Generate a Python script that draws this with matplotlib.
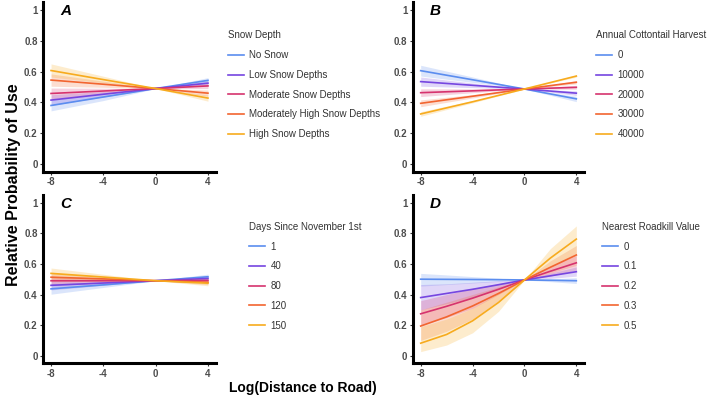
import matplotlib
matplotlib.use("Agg")
import matplotlib.pyplot as plt

plt.rcParams['font.family'] = ['Liberation Sans', 'DejaVu Sans']

colors = ['#5B8DEF', '#7646E0', '#D6336E', '#F26530', '#F7AB1E']

# ---- Panel A: Snow Depth ----
A_x = [-8, -4, 0, 4]
A_labels = ['No Snow', 'Low Snow Depths', 'Moderate Snow Depths',
            'Moderately High Snow Depths', 'High Snow Depths']
A_mid = [[0.380, 0.435, 0.490, 0.543],
         [0.415, 0.453, 0.490, 0.525],
         [0.458, 0.474, 0.490, 0.507],
         [0.545, 0.518, 0.490, 0.460],
         [0.607, 0.548, 0.490, 0.428]]
A_lo = [[0.345, 0.412, 0.490, 0.525],
        [0.380, 0.435, 0.490, 0.508],
        [0.423, 0.456, 0.490, 0.490],
        [0.505, 0.498, 0.490, 0.440],
        [0.565, 0.527, 0.490, 0.408]]
A_hi = [[0.415, 0.458, 0.490, 0.561],
        [0.450, 0.471, 0.490, 0.542],
        [0.493, 0.492, 0.490, 0.524],
        [0.585, 0.538, 0.490, 0.480],
        [0.650, 0.570, 0.490, 0.448]]

# ---- Panel B: Annual Cottontail Harvest ----
B_x = [-8, -4, 0, 4]
B_labels = ['0', '10000', '20000', '30000', '40000']
B_mid = [[0.606, 0.547, 0.487, 0.423],
         [0.535, 0.511, 0.487, 0.460],
         [0.463, 0.475, 0.487, 0.498],
         [0.394, 0.440, 0.487, 0.531],
         [0.325, 0.404, 0.487, 0.571]]
B_lo = [[0.571, 0.530, 0.487, 0.405],
        [0.505, 0.496, 0.487, 0.445],
        [0.438, 0.463, 0.487, 0.486],
        [0.372, 0.429, 0.487, 0.520],
        [0.310, 0.397, 0.487, 0.564]]
B_hi = [[0.641, 0.565, 0.487, 0.440],
        [0.565, 0.526, 0.487, 0.475],
        [0.488, 0.488, 0.487, 0.511],
        [0.416, 0.451, 0.487, 0.542],
        [0.340, 0.412, 0.487, 0.579]]

# ---- Panel C: Days Since November 1st ----
C_x = [-8, -4, 0, 4]
C_labels = ['1', '40', '80', '120', '150']
C_mid = [[0.437, 0.463, 0.490, 0.516],
         [0.460, 0.475, 0.490, 0.505],
         [0.490, 0.490, 0.490, 0.492],
         [0.513, 0.502, 0.490, 0.480],
         [0.538, 0.514, 0.490, 0.474]]
C_lo = [[0.402, 0.446, 0.490, 0.499],
        [0.430, 0.460, 0.490, 0.490],
        [0.460, 0.475, 0.490, 0.477],
        [0.483, 0.487, 0.490, 0.465],
        [0.503, 0.497, 0.490, 0.457]]
C_hi = [[0.472, 0.481, 0.490, 0.533],
        [0.490, 0.490, 0.490, 0.520],
        [0.520, 0.505, 0.490, 0.507],
        [0.543, 0.517, 0.490, 0.495],
        [0.573, 0.532, 0.490, 0.491]]

# ---- Panel D: Nearest Roadkill Value ----
D_x = [-8, -6, -4, -2, 0, 2, 4]
D_labels = ['0', '0.1', '0.2', '0.3', '0.5']
D_mid = [[0.500, 0.499, 0.498, 0.497, 0.495, 0.493, 0.490],
         [0.380, 0.407, 0.434, 0.464, 0.495, 0.522, 0.549],
         [0.274, 0.323, 0.376, 0.434, 0.495, 0.552, 0.607],
         [0.194, 0.254, 0.325, 0.407, 0.495, 0.578, 0.658],
         [0.082, 0.139, 0.228, 0.348, 0.495, 0.638, 0.762]]
D_lo = [[0.455, 0.465, 0.475, 0.485, 0.495, 0.484, 0.472],
        [0.300, 0.340, 0.380, 0.435, 0.495, 0.505, 0.520],
        [0.200, 0.250, 0.310, 0.400, 0.495, 0.520, 0.560],
        [0.100, 0.160, 0.240, 0.360, 0.495, 0.540, 0.590],
        [0.027, 0.070, 0.150, 0.290, 0.495, 0.580, 0.660]]
D_hi = [[0.538, 0.528, 0.517, 0.506, 0.495, 0.502, 0.510],
        [0.465, 0.470, 0.480, 0.490, 0.495, 0.540, 0.580],
        [0.360, 0.400, 0.440, 0.470, 0.495, 0.585, 0.655],
        [0.300, 0.350, 0.400, 0.450, 0.495, 0.620, 0.720],
        [0.190, 0.240, 0.310, 0.410, 0.495, 0.700, 0.848]]

x_ticks = [-8, -4, 0, 4]
y_ticks = [0, 0.2, 0.4, 0.6, 0.8, 1]
y_ticklabels = ['0', '0.2', '0.4', '0.6', '0.8', '1']

W, H = 709, 398
fig = plt.figure(figsize=(W / 100, H / 100), dpi=100)

def fx(px):
    return px / W

def fy(py):
    return 1 - py / H

panels = [
    ('A', A_x, A_mid, A_lo, A_hi, A_labels, 'Snow Depth',
     (43.2, 2.3, 215.8, 171.7), (228, 30.5)),
    ('B', B_x, B_mid, B_lo, B_hi, B_labels, 'Annual Cottontail Harvest',
     (412.9, 2.3, 584.1, 171.7), (596, 30.5)),
    ('C', C_x, C_mid, C_lo, C_hi, C_labels, 'Days Since November 1st',
     (43.2, 195.0, 215.8, 363.4), (249, 222)),
    ('D', D_x, D_mid, D_lo, D_hi, D_labels, 'Nearest Roadkill Value',
     (412.9, 195.0, 584.1, 363.4), (602, 222)),
]

for letter, xs, mid, lo, hi, labels, title, box, legpos in panels:
    l, t, r, b = box
    ax = fig.add_axes([fx(l), fy(b), fx(r) - fx(l), fy(t) - fy(b)])
    for i in range(5):
        ax.fill_between(xs, lo[i], hi[i], color=colors[i], alpha=0.22,
                        linewidth=0)
    for i in range(5):
        ax.plot(xs, mid[i], color=colors[i], lw=1.2, label=labels[i])
    ax.set_xlim(-8.6, 4.6)
    ax.set_ylim(-0.05, 1.05)
    ax.set_xticks(x_ticks)
    ax.set_xticklabels([str(v) for v in x_ticks])
    ax.set_yticks(y_ticks)
    ax.set_yticklabels(y_ticklabels)
    for s in ['top', 'right']:
        ax.spines[s].set_visible(False)
    for s in ['left', 'bottom']:
        ax.spines[s].set_linewidth(2.2)
        ax.spines[s].set_color('black')
    ax.tick_params(axis='both', length=2.5, width=0.8, color='#333333',
                   labelsize=7, labelcolor='#4D4D4D', pad=1.5)
    for lab in ax.get_xticklabels() + ax.get_yticklabels():
        lab.set_fontweight('bold')
    ax.text(0.1, 0.99, letter, transform=ax.transAxes, fontsize=11,
            fontweight='bold', fontstyle='italic', va='top', ha='left')
    leg = ax.legend(loc='upper left',
                    bbox_to_anchor=(fx(legpos[0]), fy(legpos[1])),
                    bbox_transform=fig.transFigure, frameon=False,
                    title=title, fontsize=7, title_fontsize=7,
                    handlelength=1.6, handletextpad=0.6, labelspacing=1.0,
                    borderpad=0, borderaxespad=0, alignment='left')
    for txt in leg.get_texts():
        txt.set_color('#333333')
    leg.get_title().set_color('#333333')

fig.text(fx(14), fy(185), 'Relative Probability of Use', rotation=90,
         fontsize=11.5, fontweight='bold', ha='center', va='center')
fig.text(fx(303), fy(388), 'Log(Distance to Road)', fontsize=10,
         fontweight='bold', ha='center', va='center')

fig.savefig('out.png', dpi=100)
